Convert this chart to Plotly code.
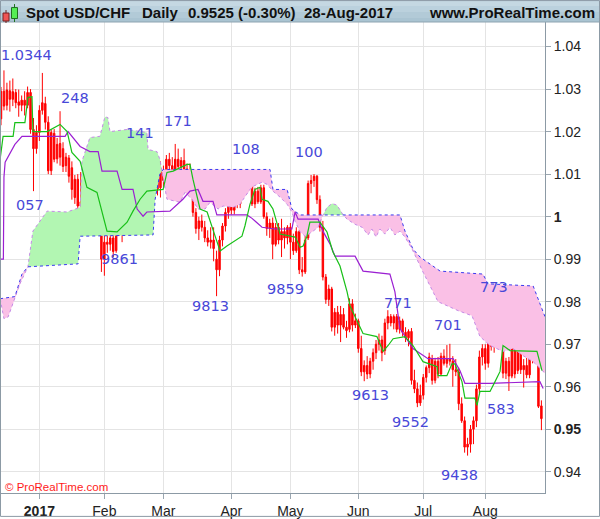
import numpy as np
import plotly.graph_objects as go

# ---------------- data ----------------
opens = [1.0230,1.0295,1.0262,1.0296,1.0276,1.0292,1.0270,1.0262,1.0274,1.0262,
         1.0292,1.0205,1.0160,1.0198,1.0250,1.0266,1.0222,1.0108,1.0196,1.0136,
         1.0172,1.0160,1.0120,1.0138,1.0115,1.0045,1.0088,1.0025,1.0032,0.9990,
         1.0020,0.9982,1.0008,1.0002,0.9975,0.9900,0.9940,0.9935,0.9950,0.9920,
         0.9988,0.9968,0.9998,1.0022,1.0040,1.0060,1.0072,1.0045,0.9978,1.0022,
         1.0042,1.0100,1.0075,1.0088,1.0068,1.0105,1.0085,1.0135,1.0120,1.0108,
         1.0135,1.0118,1.0132,1.0112,1.0090,1.0080,1.0010,0.9972,0.9990,0.9975,
         0.9950,0.9940,0.9945,0.9900,0.9875,0.9945,0.9978,1.0010,1.0035,1.0015,
         1.0040,1.0030,1.0062,1.0090,1.0098,1.0080,1.0030,1.0060,1.0035,1.0068,
         1.0000,0.9972,0.9985,0.9935,0.9975,0.9945,0.9965,0.9950,0.9975,0.9940,
         0.9920,0.9965,0.9875,0.9870,0.9950,1.0078,1.0085,1.0095,1.0040,0.9975,
         0.9858,0.9805,0.9830,0.9740,0.9775,0.9745,0.9770,0.9740,0.9735,0.9795,
         0.9745,0.9755,0.9690,0.9635,0.9650,0.9630,0.9660,0.9680,0.9700,0.9710,
         0.9685,0.9750,0.9765,0.9750,0.9765,0.9735,0.9755,0.9728,0.9715,0.9730,
         0.9615,0.9595,0.9562,0.9580,0.9622,0.9645,0.9665,0.9615,0.9660,0.9630,
         0.9672,0.9655,0.9665,0.9660,0.9640,0.9635,0.9560,0.9520,0.9458,0.9465,
         0.9500,0.9520,0.9595,0.9670,0.9690,0.9655,0.9710,0.9695,0.9735,0.9738,
         0.9732,0.9632,0.9660,0.9625,0.9730,0.9638,0.9735,0.9640,0.9650,0.9628,
         0.9690,0.9665,0.9670,0.9555]
highs = [1.0305,1.0344,1.0315,1.0320,1.0325,1.0300,1.0299,1.0285,1.0295,1.0306,
         1.0300,1.0232,1.0215,1.0262,1.0338,1.0282,1.0236,1.0205,1.0206,1.0185,
         1.0248,1.0175,1.0150,1.0145,1.0130,1.0098,1.0100,1.0105,1.0045,1.0030,
         1.0028,1.0025,1.0030,1.0055,0.9985,0.9965,0.9975,0.9998,0.9985,0.9995,
         0.9998,1.0005,1.0045,1.0062,1.0085,1.0141,1.0095,1.0062,1.0030,1.0050,
         1.0135,1.0130,1.0110,1.0095,1.0130,1.0120,1.0145,1.0150,1.0140,1.0171,
         1.0160,1.0140,1.0160,1.0125,1.0125,1.0090,1.0020,1.0000,1.0005,0.9990,
         0.9968,0.9975,0.9975,0.9920,0.9955,0.9985,1.0020,1.0045,1.0050,1.0050,
         1.0055,1.0075,1.0098,1.0108,1.0105,1.0090,1.0068,1.0070,1.0075,1.0075,
         1.0010,0.9995,0.9998,0.9985,0.9985,0.9995,0.9975,0.9980,0.9985,0.9960,
         0.9975,0.9970,0.9905,0.9955,1.0085,1.0098,1.0100,1.0098,1.0050,0.9990,
         0.9865,0.9840,0.9835,0.9785,0.9790,0.9790,0.9785,0.9755,0.9808,0.9806,
         0.9772,0.9760,0.9720,0.9662,0.9672,0.9668,0.9690,0.9710,0.9725,0.9720,
         0.9760,0.9780,0.9771,0.9770,0.9771,0.9765,0.9760,0.9740,0.9735,0.9738,
         0.9640,0.9610,0.9605,0.9630,0.9650,0.9680,0.9675,0.9668,0.9670,0.9680,
         0.9688,0.9698,0.9701,0.9672,0.9665,0.9645,0.9575,0.9530,0.9480,0.9510,
         0.9530,0.9605,0.9685,0.9700,0.9700,0.9725,0.9740,0.9745,0.9773,0.9770,
         0.9740,0.9668,0.9670,0.9745,0.9750,0.9768,0.9745,0.9665,0.9668,0.9700,
         0.9705,0.9715,0.9680,0.9568]
lows = [1.0215,1.0250,1.0250,1.0247,1.0260,1.0255,1.0235,1.0248,1.0238,1.0255,
        1.0195,1.0060,1.0148,1.0178,1.0240,1.0205,1.0100,1.0098,1.0128,1.0125,
        1.0120,1.0105,1.0105,1.0080,1.0040,1.0030,1.0018,0.9998,0.9980,0.9970,
        0.9975,0.9978,0.9995,0.9970,0.9870,0.9861,0.9915,0.9920,0.9905,0.9915,
        0.9955,0.9940,0.9990,1.0000,1.0025,1.0050,1.0030,0.9965,0.9970,1.0005,
        1.0035,1.0060,1.0040,1.0050,1.0045,1.0070,1.0080,1.0110,1.0095,1.0100,
        1.0110,1.0105,1.0105,1.0085,1.0070,1.0000,0.9960,0.9945,0.9965,0.9940,
        0.9930,0.9925,0.9895,0.9813,0.9860,0.9930,0.9965,0.9995,1.0005,1.0005,
        1.0020,1.0020,1.0045,1.0075,1.0070,1.0025,1.0020,1.0030,1.0030,0.9995,
        0.9955,0.9950,0.9900,0.9930,0.9935,0.9905,0.9925,0.9935,0.9900,0.9910,
        0.9915,0.9865,0.9859,0.9865,0.9945,1.0055,1.0070,1.0030,0.9965,0.9850,
        0.9795,0.9790,0.9730,0.9720,0.9725,0.9705,0.9735,0.9715,0.9728,0.9730,
        0.9738,0.9680,0.9625,0.9613,0.9618,0.9620,0.9640,0.9665,0.9685,0.9660,
        0.9675,0.9735,0.9742,0.9735,0.9728,0.9725,0.9718,0.9705,0.9695,0.9605,
        0.9585,0.9552,0.9555,0.9570,0.9610,0.9632,0.9605,0.9608,0.9620,0.9625,
        0.9650,0.9645,0.9650,0.9600,0.9625,0.9545,0.9515,0.9445,0.9438,0.9445,
        0.9465,0.9505,0.9585,0.9650,0.9640,0.9645,0.9685,0.9680,0.9715,0.9720,
        0.9620,0.9618,0.9590,0.9620,0.9620,0.9630,0.9630,0.9598,0.9620,0.9620,
        0.9655,0.9660,0.9550,0.9498]
closes = [1.0295,1.0260,1.0298,1.0276,1.0294,1.0268,1.0262,1.0274,1.0262,1.0292,
          1.0205,1.0160,1.0198,1.0250,1.0268,1.0222,1.0108,1.0198,1.0135,1.0170,
          1.0140,1.0118,1.0140,1.0095,1.0064,1.0088,1.0025,1.0035,0.9988,1.0022,
          0.9980,1.0008,1.0002,0.9975,0.9900,0.9940,0.9935,0.9950,0.9918,0.9988,
          0.9968,0.9995,1.0022,1.0040,1.0060,1.0072,1.0045,0.9975,1.0022,1.0042,
          1.0100,1.0075,1.0088,1.0065,1.0108,1.0085,1.0135,1.0120,1.0105,1.0135,
          1.0118,1.0132,1.0112,1.0090,1.0080,1.0010,0.9972,0.9990,0.9975,0.9950,
          0.9940,0.9945,0.9925,0.9875,0.9945,0.9978,1.0010,1.0035,1.0015,1.0040,
          1.0030,1.0062,1.0090,1.0098,1.0080,1.0030,1.0060,1.0035,1.0068,1.0000,
          0.9972,0.9985,0.9935,0.9975,0.9945,0.9965,0.9950,0.9975,0.9940,0.9920,
          0.9965,0.9875,0.9870,0.9945,1.0078,1.0085,1.0095,1.0040,0.9975,0.9858,
          0.9805,0.9830,0.9740,0.9775,0.9745,0.9770,0.9740,0.9732,0.9795,0.9745,
          0.9755,0.9690,0.9635,0.9650,0.9630,0.9660,0.9680,0.9700,0.9710,0.9680,
          0.9750,0.9765,0.9750,0.9765,0.9735,0.9755,0.9728,0.9715,0.9730,0.9615,
          0.9595,0.9562,0.9580,0.9622,0.9645,0.9670,0.9615,0.9660,0.9630,0.9672,
          0.9655,0.9665,0.9660,0.9640,0.9635,0.9560,0.9520,0.9458,0.9465,0.9500,
          0.9520,0.9595,0.9670,0.9690,0.9655,0.9710,0.9695,0.9735,0.9740,0.9732,
          0.9632,0.9660,0.9625,0.9730,0.9630,0.9735,0.9640,0.9650,0.9628,0.9690,
          0.9665,0.9672,0.9554,0.9525]

# Ichimoku lines read as vertices: (bar index, price)
tenkan_x = [-0.3,0.7,4.1,4.7,8.1,9.1,10.5,10.8,15.6,20.0,22.4,24.0,26.8,29.1,32.5,35.9,39.3,42.7,
            44.7,47.1,49.4,54.9,56.2,58.3,63.0,64.0,65.0,67.4,69.8,71.8,74.2,76.5,78.6,81.6,82.6,
            84.3,86.0,87.7,88.4,90.4,92.1,94.5,99.6,101.3,102.3,103.6,104.6,108.0,110.4,112.4,
            114.8,117.2,118.2,120.6,122.6,127.3,129.4,131.1,132.8,136.8,139.5,142.9,147.7,148.0,
            151.0,152.7,153.7,156.1,157.1,160.5,161.2,162.2,165.6,167.3,169.0,170.0,172.4,181.5,183.2]
tenkan_y = [1.0135,1.0189,1.0189,1.0221,1.0221,1.0280,1.0282,1.0200,1.0200,1.0217,1.0200,1.0151,
            1.0130,1.0069,1.0057,0.9966,0.9964,0.9987,1.0013,1.0041,1.0060,1.0064,1.0104,1.0107,
            1.0123,1.0123,1.0088,1.0018,1.0011,0.9971,0.9919,0.9931,0.9940,0.9954,0.9978,1.0029,
            1.0064,1.0069,1.0041,1.0036,1.0018,0.9959,0.9952,0.9928,0.9931,0.9954,0.9987,0.9987,
            0.9964,0.9917,0.9884,0.9823,0.9790,0.9753,0.9725,0.9718,0.9683,0.9697,0.9713,0.9718,
            0.9697,0.9659,0.9647,0.9626,0.9626,0.9654,0.9654,0.9612,0.9573,0.9573,0.9556,0.9589,
            0.9589,0.9612,0.9636,0.9697,0.9685,0.9683,0.9638]

kijun_x = [-0.3,0.8,1.0,1.4,4.7,7.1,21.7,22.7,26.8,30.1,32.9,34.2,39.3,41.0,44.7,46.1,48.1,49.4,57.2,59.6,
           61.6,64.0,66.7,68.4,71.8,73.1,83.3,85.0,88.4,92.8,98.5,99.6,100.6,107.4,109.0,111.4,
           113.1,119.9,120.9,122.6,131.7,133.4,135.1,139.5,144.6,153.1,155.4,157.1,165.6,182.5,183.6]
kijun_y = [0.9900,0.9900,1.0093,1.0128,1.0170,1.0189,1.0189,1.0200,1.0165,1.0153,1.0153,1.0107,1.0107,1.0064,
           1.0064,1.0018,1.0001,1.0011,1.0013,1.0029,1.0041,1.0060,1.0064,1.0036,1.0036,1.0004,
           1.0004,0.9996,0.9975,0.9971,0.9971,1.0011,0.9994,0.9994,0.9966,0.9936,0.9907,0.9907,
           0.9893,0.9872,0.9865,0.9823,0.9737,0.9690,0.9666,0.9666,0.9638,0.9608,0.9608,0.9612,0.9596]

spanA_x = [-0.3,1.0,2.4,4.4,6.4,9.1,10.8,15.6,22.4,26.8,27.4,30.1,33.5,35.2,36.2,36.9,42.7,49.4,
           49.8,52.8,53.8,56.2,60.6,62.3,64.7,66.7,69.1,70.8,73.5,75.2,78.6,80.9,82.0,84.3,85.3,
           88.4,90.1,92.1,94.5,96.9,98.5,99.6,101.3,103.0,105.3,107.4,108.7,110.4,112.1,113.8,
           115.5,117.2,119.9,122.3,124.3,125.6,127.0,128.3,130.0,131.7,133.4,135.1,136.8,139.2,
           142.9,148.0,154.8,159.5,162.2,165.6,170.0,173.4,176.8,180.2,184.2]
spanA_y = [0.9807,0.9760,0.9764,0.9802,0.9842,0.9882,0.9966,1.0013,1.0011,1.0022,1.0130,1.0186,
           1.0189,1.0235,1.0233,1.0200,1.0205,1.0198,1.0158,1.0153,1.0135,1.0041,1.0034,1.0057,
           1.0041,1.0018,1.0018,1.0034,1.0018,1.0025,1.0022,1.0029,1.0041,1.0064,1.0071,1.0081,
           1.0076,1.0060,1.0046,1.0029,1.0011,0.9989,0.9964,0.9954,0.9964,0.9975,0.9999,1.0022,
           1.0031,1.0027,1.0008,0.9994,0.9982,0.9975,0.9957,0.9971,0.9952,0.9971,0.9959,0.9975,
           0.9957,0.9966,0.9952,0.9924,0.9870,0.9800,0.9779,0.9767,0.9718,0.9697,0.9683,0.9690,
           0.9673,0.9659,0.9632]

spanB_x = [-0.3,4.7,7.1,9.1,26.1,26.8,51.5,52.2,53.8,54.9,91.1,92.1,96.9,98.5,101.3,135.1,136.8,
           139.5,141.9,148.7,163.2,164.9,180.2,183.6,184.2]
spanB_y = [0.9807,0.9812,0.9865,0.9882,0.9889,0.9954,0.9957,1.0041,1.0100,1.0111,1.0111,1.0064,
           1.0064,1.0018,1.0004,1.0004,0.9966,0.9924,0.9905,0.9872,0.9865,0.9842,0.9837,0.9776,0.9765]

month_idx = [13, 35, 55, 78, 98, 121, 143, 164]
month_lbl = ["<b>2017</b>", "Feb", "Mar", "Apr", "May", "Jun", "Jul", "Aug"]
ytick_vals = [0.94, 0.95, 0.96, 0.97, 0.98, 0.99, 1.00, 1.01, 1.02, 1.03, 1.04]
ytick_lbl = ["0.94", "<b>0.95</b>", "0.96", "0.97", "0.98", "0.99", "<b>1</b>",
             "1.01", "1.02", "1.03", "1.04"]

pivot_txt = ["1.0344", "248", "141", "171", "057", "9861", "9813", "108", "100",
             "9859", "771", "9613", "701", "9552", "773", "583", "9438"]
pivot_x = [8.6, 25.1, 46.9, 59.9, 9.8, 40.0, 70.8, 83.1, 104.3,
           96.5, 134.3, 125.0, 151.4, 138.7, 167.1, 169.2, 155.1]
pivot_y = [1.0381, 1.0278, 1.0196, 1.0226, 1.0027, 0.9900, 0.9790, 1.0160, 1.0153,
           0.9830, 0.9797, 0.9580, 0.9746, 0.9516, 0.9835, 0.9547, 0.9392]

# ---------------- layout constants ----------------
W, H = 600, 519
ML, MR, MT, MB = 0, 55, 22, 24
PW, PH = W - ML - MR, H - MT - MB
XR = [-0.34, 184.22]
YR = [0.93501, 1.04578]


def px(xp):
    return (xp - ML) / PW


def py(yp):
    return (H - MB - yp) / PH


idx = list(range(len(closes)))

# cloud fill polygons (between the two spans, coloured by which is on top)
gx = np.union1d(spanA_x, spanB_x)
ga = np.interp(gx, spanA_x, spanA_y)
gb = np.interp(gx, spanB_x, spanB_y)
fx, fa, fb = [gx[0]], [ga[0]], [gb[0]]
for k in range(1, len(gx)):
    d0, d1 = ga[k - 1] - gb[k - 1], ga[k] - gb[k]
    if d0 * d1 < 0:
        t = d0 / (d0 - d1)
        xc = gx[k - 1] + t * (gx[k] - gx[k - 1])
        yc = ga[k - 1] + t * (ga[k] - ga[k - 1])
        fx.append(xc); fa.append(yc); fb.append(yc)
    fx.append(gx[k]); fa.append(ga[k]); fb.append(gb[k])
fx, fa, fb = np.array(fx), np.array(fa), np.array(fb)
upper = np.maximum(fa, fb)

fig = go.Figure()
NOH = dict(hoverinfo="skip", showlegend=False)
fig.add_trace(go.Scatter(x=fx, y=fb, mode="lines", line=dict(width=0, color="rgba(0,0,0,0)"), **NOH))
fig.add_trace(go.Scatter(x=fx, y=upper, mode="lines", line=dict(width=0, color="rgba(0,0,0,0)"),
                         fill="tonexty", fillcolor="rgb(178,246,178)", **NOH))
fig.add_trace(go.Scatter(x=fx, y=fa, mode="lines", line=dict(width=0, color="rgba(0,0,0,0)"), **NOH))
fig.add_trace(go.Scatter(x=fx, y=upper, mode="lines", line=dict(width=0, color="rgba(0,0,0,0)"),
                         fill="tonexty", fillcolor="rgb(250,192,230)", **NOH))
fig.add_trace(go.Scatter(x=spanA_x, y=spanA_y, mode="lines",
                         line=dict(color="#c58ae6", width=1, dash="3px,3px"), **NOH))
fig.add_trace(go.Scatter(x=spanB_x, y=spanB_y, mode="lines",
                         line=dict(color="#3a3af0", width=1, dash="3px,3px"), **NOH))

fig.add_trace(go.Candlestick(
    x=idx, open=opens, high=highs, low=lows, close=closes,
    increasing=dict(line=dict(color="#ff0000", width=1), fillcolor="#ff0000"),
    decreasing=dict(line=dict(color="#ff0000", width=1), fillcolor="#ff0000"),
    whiskerwidth=0, hoverinfo="skip", showlegend=False))

fig.add_trace(go.Scatter(x=kijun_x, y=kijun_y, mode="lines",
                         line=dict(color="#9b1fd2", width=1.2), **NOH))
fig.add_trace(go.Scatter(x=tenkan_x, y=tenkan_y, mode="lines",
                         line=dict(color="#18c018", width=1.2), **NOH))

shapes = []
# title bar (stacked bands for a soft gradient)
bands = [(0, 6, "#c5d8e2"), (6, 12, "#bbd1dd"), (12, 18, "#b2cad7"), (18, 22, "#aac4d2")]
for y0, y1, c in bands:
    shapes.append(dict(type="rect", xref="paper", yref="paper", x0=px(0), x1=px(W),
                       y0=py(y1), y1=py(y0), fillcolor=c, line=dict(width=0), layer="above"))
shapes.append(dict(type="line", xref="paper", yref="paper", x0=px(0), x1=px(W),
                   y0=py(22), y1=py(22), line=dict(color="#8ea4b1", width=1), layer="above"))
# title icon
shapes.append(dict(type="line", xref="paper", yref="paper", x0=px(6), x1=px(6), y0=py(23), y1=py(10),
                   line=dict(color="#6a2020", width=1), layer="above"))
shapes.append(dict(type="rect", xref="paper", yref="paper", x0=px(3), x1=px(9), y0=py(21), y1=py(13),
                   fillcolor="#ee5555", line=dict(color="#7a2020", width=1), layer="above"))
shapes.append(dict(type="line", xref="paper", yref="paper", x0=px(14.5), x1=px(14.5), y0=py(22), y1=py(4),
                   line=dict(color="#207020", width=1), layer="above"))
shapes.append(dict(type="rect", xref="paper", yref="paper", x0=px(11.5), x1=px(17.5), y0=py(18.5), y1=py(7.5),
                   fillcolor="#55ee55", line=dict(color="#207020", width=1), layer="above"))
# outer frame
shapes.append(dict(type="rect", xref="paper", yref="paper", x0=px(0.5), x1=px(W - 0.5),
                   y0=py(H - 0.5), y1=py(0.5), line=dict(color="#8c9aa5", width=1), layer="above"))

annotations = []
tfont = dict(family="Liberation Sans, Arial", size=15, color="#111111")
for txt, xl in [("Spot USD/CHF", 24), ("Daily", 139.7), ("0.9525 (-0.30%)", 186.4), ("28-Aug-2017", 302.3)]:
    annotations.append(dict(text="<b>%s</b>" % txt, xref="paper", yref="paper", x=px(xl), y=py(12.5),
                            xanchor="left", yanchor="middle", showarrow=False, font=tfont))
annotations.append(dict(text="<b>www.ProRealTime.com</b>", xref="paper", yref="paper", x=px(597), y=py(12.5),
                        xanchor="right", yanchor="middle", showarrow=False, font=tfont))
annotations.append(dict(text="© ProRealTime.com", xref="paper", yref="paper", x=px(3), y=py(488.5),
                        xanchor="left", yanchor="middle", showarrow=False,
                        font=dict(family="Liberation Sans, Arial", size=11.5, color="#ff1a1a")))
for t, xx, yy in zip(pivot_txt, pivot_x, pivot_y):
    annotations.append(dict(text=t, x=xx, y=yy, xref="x", yref="y", showarrow=False,
                            xanchor="center", yanchor="middle",
                            font=dict(family="DejaVu Sans", size=14.5, color="#4848d8")))

fig.update_layout(
    width=W, height=H, margin=dict(l=ML, r=MR, t=MT, b=MB),
    paper_bgcolor="white", plot_bgcolor="white", showlegend=False,
    shapes=shapes, annotations=annotations, hovermode=False,
    xaxis=dict(range=XR, tickmode="array", tickvals=month_idx, ticktext=month_lbl,
               showgrid=True, gridcolor="#e4e4e4", gridwidth=1, zeroline=False,
               showline=True, linecolor="#8c9aa5", linewidth=1,
               ticks="outside", ticklen=5, tickcolor="#9aa6b0",
               tickfont=dict(family="Liberation Sans, Arial", size=14, color="#222222"),
               rangeslider=dict(visible=False), fixedrange=True),
    yaxis=dict(range=YR, side="right", tickmode="array", tickvals=ytick_vals, ticktext=ytick_lbl,
               showgrid=True, gridcolor="#e4e4e4", gridwidth=1, zeroline=False,
               showline=True, linecolor="#8c9aa5", linewidth=1,
               ticks="outside", ticklen=5, tickcolor="#9aa6b0",
               tickfont=dict(family="Liberation Sans, Arial", size=14, color="#222222"),
               fixedrange=True),
)

fig.write_html("out.html", config={"displayModeBar": False},
               post_script="document.body.style.margin='0';document.body.style.padding='0';")
